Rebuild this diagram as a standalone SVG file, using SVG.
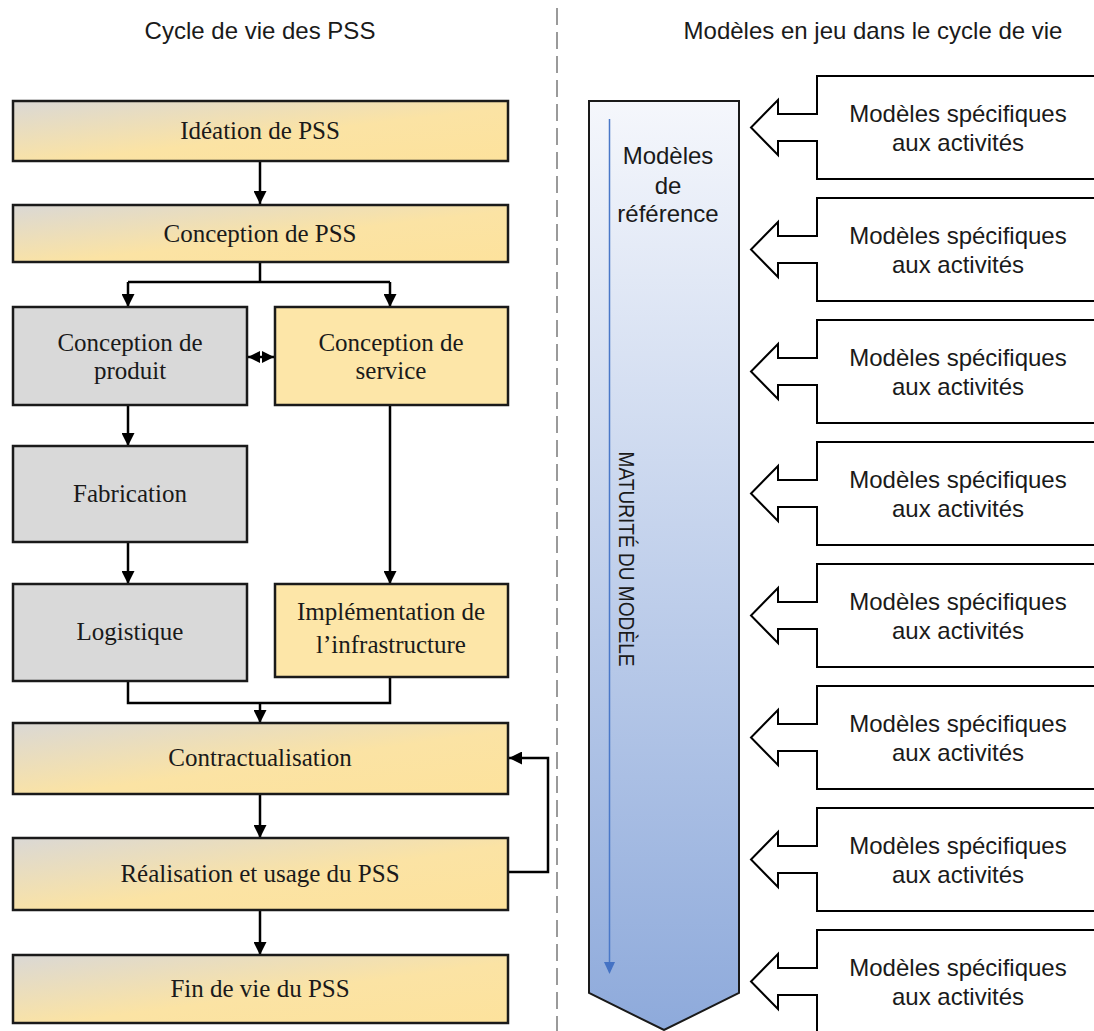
<svg xmlns="http://www.w3.org/2000/svg" width="1094" height="1031" viewBox="0 0 1094 1031">
<defs>
<linearGradient id="gold" x1="0" y1="0" x2="1" y2="1">
<stop offset="0" stop-color="#dad8d5"/>
<stop offset="0.55" stop-color="#fbe3a4"/>
<stop offset="1" stop-color="#fde29c"/>
</linearGradient>
<linearGradient id="col" x1="0" y1="0" x2="0" y2="1">
<stop offset="0" stop-color="#f5f7fc"/>
<stop offset="1" stop-color="#8eaadb"/>
</linearGradient>
<marker id="ah" viewBox="0 0 10 10" refX="10" refY="5" markerWidth="13" markerHeight="13" markerUnits="userSpaceOnUse" orient="auto-start-reverse">
<path d="M0,0 L10,5 L0,10 Z" fill="#000"/>
</marker>
<marker id="ahs" viewBox="0 0 10 10" refX="10" refY="5" markerWidth="12" markerHeight="12" markerUnits="userSpaceOnUse" orient="auto-start-reverse">
<path d="M0,0 L10,5 L0,10 Z" fill="#000"/>
</marker>
</defs>
<style>
.title{font-family:"Liberation Sans",Arial,sans-serif;font-size:24px;fill:#1a1a1a;text-anchor:middle}
.bx{stroke:#1a1a1a;stroke-width:2.5}
.gold{fill:url(#gold)}
.gray{fill:#d9d9d9}
.yel{fill:#fde6a8}
.bt{font-family:"Liberation Serif","Times New Roman",serif;font-size:25px;fill:#1a1a1a;text-anchor:middle}
.st{font-family:"Liberation Sans",Arial,sans-serif;font-size:24px;fill:#1a1a1a;text-anchor:middle}
.conn{fill:none;stroke:#000;stroke-width:2.5}
.call{fill:#fff;stroke:#000;stroke-width:2}
</style>
<rect width="1094" height="1031" fill="#fff"/>
<line x1="557" y1="8" x2="557" y2="1031" stroke="#9a9a9a" stroke-width="2" stroke-dasharray="17 7"/>
<text class="title" x="260" y="39">Cycle de vie des PSS</text>
<text class="title" x="873" y="39">Modèles en jeu dans le cycle de vie</text>

<g id="connectors">
<path class="conn" d="M260,161 V204" marker-end="url(#ah)"/>
<path class="conn" d="M260,262 V282 M128,282 H390"/>
<path class="conn" d="M128,282 V307" marker-end="url(#ah)"/>
<path class="conn" d="M390,282 V307" marker-end="url(#ah)"/>
<path class="conn" d="M248,357 H274" marker-start="url(#ahs)" marker-end="url(#ahs)"/>
<path class="conn" d="M128,405 V446" marker-end="url(#ah)"/>
<path class="conn" d="M128,542 V584" marker-end="url(#ah)"/>
<path class="conn" d="M390,405 V584" marker-end="url(#ah)"/>
<path class="conn" d="M128,681 V703 H390 V677"/>
<path class="conn" d="M260,703 V723" marker-end="url(#ah)"/>
<path class="conn" d="M260,794 V838" marker-end="url(#ah)"/>
<path class="conn" d="M508,872 H548 V758 H509" marker-end="url(#ah)"/>
<path class="conn" d="M260,910 V955" marker-end="url(#ah)"/>
</g>

<g id="ideation"><rect class="bx gold" x="13" y="101" width="495" height="60"/><text class="bt" x="260" y="139">Idéation de PSS</text></g>
<g id="conception-pss"><rect class="bx gold" x="13" y="205" width="495" height="57"/><text class="bt" x="260" y="242">Conception de PSS</text></g>
<g id="conception-produit"><rect class="bx gray" x="13" y="307" width="234" height="98"/><text class="bt" x="130" y="351">Conception de</text><text class="bt" x="130" y="379">produit</text></g>
<g id="conception-service"><rect class="bx yel" x="275" y="307" width="233" height="98"/><text class="bt" x="391" y="351">Conception de</text><text class="bt" x="391" y="379">service</text></g>
<g id="fabrication"><rect class="bx gray" x="13" y="446" width="234" height="96"/><text class="bt" x="130" y="502">Fabrication</text></g>
<g id="logistique"><rect class="bx gray" x="13" y="584" width="234" height="97"/><text class="bt" x="130" y="640">Logistique</text></g>
<g id="implementation"><rect class="bx yel" x="275" y="584" width="233" height="93"/><text class="bt" x="391" y="620">Implémentation de</text><text class="bt" x="391" y="653">l’infrastructure</text></g>
<g id="contractualisation"><rect class="bx gold" x="13" y="723" width="495" height="71"/><text class="bt" x="260" y="766">Contractualisation</text></g>
<g id="realisation"><rect class="bx gold" x="13" y="838" width="495" height="72"/><text class="bt" x="260" y="882">Réalisation et usage du PSS</text></g>
<g id="fin-de-vie"><rect class="bx gold" x="13" y="955" width="495" height="68"/><text class="bt" x="260" y="997">Fin de vie du PSS</text></g>

<g id="modeles-reference">
<path d="M589,101 H739 V993 L664,1030 L589,993 Z" fill="url(#col)" stroke="#1a1a1a" stroke-width="2"/>
<line x1="609.5" y1="119" x2="609.5" y2="963" stroke="#4a78c8" stroke-width="1.5"/>
<path d="M604,962 L615,962 L609.5,974 Z" fill="#4472c4"/>
<text class="st" x="668" y="164">Modèles</text>
<text class="st" x="668" y="194">de</text>
<text class="st" x="668" y="222">référence</text>
<text transform="rotate(90 627 559)" x="627" y="567" font-family="'Liberation Sans',Arial,sans-serif" font-size="22" fill="#1a1a1a" text-anchor="middle" textLength="215" lengthAdjust="spacingAndGlyphs">MATURITÉ DU MODÈLE</text>
</g>

<g id="specifique-1"><path class="call" d="M1100,76 H817 V114 H778 V100 L751,127.5 L778,155 V141 H817 V179 H1100"/><text class="st" x="958" y="122">Modèles spécifiques</text><text class="st" x="958" y="151">aux activités</text></g>
<g id="specifique-2" transform="translate(0,122)"><path class="call" d="M1100,76 H817 V114 H778 V100 L751,127.5 L778,155 V141 H817 V179 H1100"/><text class="st" x="958" y="122">Modèles spécifiques</text><text class="st" x="958" y="151">aux activités</text></g>
<g id="specifique-3" transform="translate(0,244)"><path class="call" d="M1100,76 H817 V114 H778 V100 L751,127.5 L778,155 V141 H817 V179 H1100"/><text class="st" x="958" y="122">Modèles spécifiques</text><text class="st" x="958" y="151">aux activités</text></g>
<g id="specifique-4" transform="translate(0,366)"><path class="call" d="M1100,76 H817 V114 H778 V100 L751,127.5 L778,155 V141 H817 V179 H1100"/><text class="st" x="958" y="122">Modèles spécifiques</text><text class="st" x="958" y="151">aux activités</text></g>
<g id="specifique-5" transform="translate(0,488)"><path class="call" d="M1100,76 H817 V114 H778 V100 L751,127.5 L778,155 V141 H817 V179 H1100"/><text class="st" x="958" y="122">Modèles spécifiques</text><text class="st" x="958" y="151">aux activités</text></g>
<g id="specifique-6" transform="translate(0,610)"><path class="call" d="M1100,76 H817 V114 H778 V100 L751,127.5 L778,155 V141 H817 V179 H1100"/><text class="st" x="958" y="122">Modèles spécifiques</text><text class="st" x="958" y="151">aux activités</text></g>
<g id="specifique-7" transform="translate(0,732)"><path class="call" d="M1100,76 H817 V114 H778 V100 L751,127.5 L778,155 V141 H817 V179 H1100"/><text class="st" x="958" y="122">Modèles spécifiques</text><text class="st" x="958" y="151">aux activités</text></g>
<g id="specifique-8" transform="translate(0,854)"><path class="call" d="M1100,76 H817 V114 H778 V100 L751,127.5 L778,155 V141 H817 V179 H1100"/><text class="st" x="958" y="122">Modèles spécifiques</text><text class="st" x="958" y="151">aux activités</text></g>
</svg>
